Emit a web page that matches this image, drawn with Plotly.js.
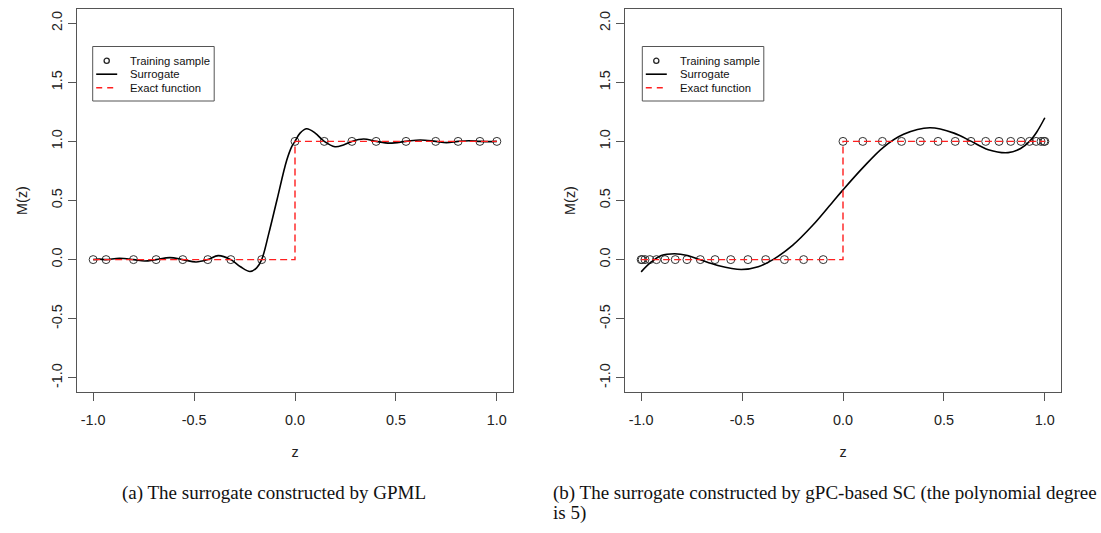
<!DOCTYPE html>
<html>
<head>
<meta charset="utf-8">
<script src="https://cdn.plot.ly/plotly-3.0.1.min.js"></script>
<style>
html,body{margin:0;padding:0;background:#fff;}
#chart{width:1101px;height:533px;}
</style>
</head>
<body>
<div id="chart"></div>
<script>
// ---------- Data ----------
// (a) GPML
const gpTrainZ = [-1.0, -0.936, -0.80, -0.688, -0.556, -0.432, -0.318, -0.165, 0.0, 0.145, 0.282, 0.402, 0.55, 0.697, 0.808, 0.916, 1.0];
const gpTrainY = [0, 0, 0, 0, 0, 0, 0, 0, 1, 1, 1, 1, 1, 1, 1, 1, 1];
const gpSurZ = [-1.0, -0.97, -0.936, -0.87, -0.80, -0.745, -0.688, -0.62, -0.556, -0.49, -0.432, -0.38, -0.318, -0.27, -0.223, -0.19, -0.165, -0.13, -0.09, -0.041, -0.015, 0.0, 0.025, 0.058, 0.10, 0.145, 0.198, 0.24, 0.282, 0.34, 0.402, 0.47, 0.55, 0.62, 0.697, 0.75, 0.808, 0.86, 0.916, 0.96, 1.0];
const gpSurY = [0.0, 0.004, 0.0, 0.011, 0.0, -0.012, 0.0, 0.017, 0.0, -0.02, 0.0, 0.034, 0.0, -0.06, -0.10, -0.07, 0.0, 0.22, 0.50, 0.84, 0.96, 1.0, 1.07, 1.107, 1.07, 1.0, 0.955, 0.97, 1.0, 1.02, 1.0, 0.985, 1.0, 1.012, 1.0, 0.99, 1.0, 1.005, 1.0, 0.998, 1.0];

// (b) gPC-based SC, degree 5
const scTrainZ = [-1.0, -0.995, -0.981, -0.957, -0.924, -0.882, -0.831, -0.773, -0.707, -0.634, -0.556, -0.471, -0.383, -0.290, -0.195, -0.098, 0.0, 0.098, 0.195, 0.290, 0.383, 0.471, 0.556, 0.634, 0.707, 0.773, 0.831, 0.882, 0.924, 0.957, 0.981, 0.995, 1.0];
const scTrainY = [0, 0, 0, 0, 0, 0, 0, 0, 0, 0, 0, 0, 0, 0, 0, 0, 1, 1, 1, 1, 1, 1, 1, 1, 1, 1, 1, 1, 1, 1, 1, 1, 1];
const scSurZ = [-1.0, -0.95, -0.9, -0.835, -0.77, -0.71, -0.62, -0.504, -0.42, -0.347, -0.25, -0.15, -0.05, 0.0, 0.1, 0.2, 0.3, 0.43, 0.55, 0.636, 0.72, 0.818, 0.88, 0.924, 0.96, 1.0];
const scSurY = [-0.104, -0.02, 0.035, 0.05, 0.035, 0.0, -0.05, -0.084, -0.06, 0.0, 0.12, 0.29, 0.49, 0.59, 0.78, 0.95, 1.06, 1.115, 1.07, 1.0, 0.93, 0.905, 0.94, 1.0, 1.08, 1.20];

// Exact step function
const exactZ = [-1, 0, 0, 1];
const exactY = [0, 0, 1, 1];

// Tick labels
const xTickVals = [-1, -0.5, 0, 0.5, 1];
const xTickText = ["-1.0", "-0.5", "0.0", "0.5", "1.0"];
const yTickVals = [-1, -0.5, 0, 0.5, 1, 1.5, 2];
const yTickText = ["-1.0", "-0.5", "0.0", "0.5", "1.0", "1.5", "2.0"];

const legendLabels = ["Training sample", "Surrogate", "Exact function"];
const captionA = "(a) The surrogate constructed by GPML";
const captionB1 = "(b) The surrogate constructed by gPC-based SC (the polynomial degree";
const captionB2 = "is 5)";

// ---------- Layout helpers ----------
const W = 1101, H = 533;
const px = x => x / W;
const py = y => 1 - y / H;
const SANS = "Liberation Sans, Arial, sans-serif";
const SERIF = "Liberation Serif, Times New Roman, serif";
const RED = "#ff1f1f";
const AXC = "#555";

function pointsTrace(z, y, xa, ya) {
  return {x: z, y: y, xaxis: xa, yaxis: ya, type: "scatter", mode: "markers",
    marker: {symbol: "circle-open", size: 8, color: "#333", line: {width: 1, color: "#333"}},
    showlegend: false, hoverinfo: "x+y"};
}
function lineTrace(z, y, xa, ya) {
  return {x: z, y: y, xaxis: xa, yaxis: ya, type: "scatter", mode: "lines",
    line: {color: "#000", width: 1.6, shape: "spline", smoothing: 1}, showlegend: false};
}
function exactTrace(xa, ya) {
  return {x: exactZ, y: exactY, xaxis: xa, yaxis: ya, type: "scatter", mode: "lines",
    line: {color: RED, width: 1.4, dash: "7px,4px"}, showlegend: false};
}

const data = [
  pointsTrace(gpTrainZ, gpTrainY, "x", "y"),
  lineTrace(gpSurZ, gpSurY, "x", "y"),
  exactTrace("x", "y"),
  pointsTrace(scTrainZ, scTrainY, "x2", "y2"),
  lineTrace(scSurZ, scSurY, "x2", "y2"),
  exactTrace("x2", "y2")
];

function xAxis(domain, anchor) {
  return {domain: domain, anchor: anchor, range: [-1.08, 1.08], tickmode: "array",
    tickvals: xTickVals, ticktext: xTickText, ticks: "outside", ticklen: 8, tickwidth: 1,
    tickcolor: AXC, showline: true, linecolor: AXC, linewidth: 1, mirror: true,
    showgrid: false, zeroline: false, ticklabelstandoff: 7,
    tickfont: {family: SANS, size: 14.4, color: "#222"},
    title: {text: "z", font: {family: SANS, size: 14.4, color: "#222"}, standoff: 19}};
}
function yAxis(domain, anchor) {
  return {domain: domain, anchor: anchor, range: [-1.12, 2.12], tickmode: "array",
    tickvals: yTickVals, ticktext: yTickText, ticks: "outside", ticklen: 8, tickwidth: 1,
    tickcolor: AXC, showline: true, linecolor: AXC, linewidth: 1, mirror: true,
    showgrid: false, zeroline: false, tickangle: -90,
    tickfont: {family: SANS, size: 14.4, color: "#222"},
    title: {text: "M(z)", font: {family: SANS, size: 14.4, color: "#222"}, standoff: 18}};
}

const yDom = [py(392), py(9)];

// Manual legends (R-style compact legend boxes)
const shapes = [];
const annotations = [];
function addLegend(L) {
  const T = 46.5, B = 101, R = L + 121.5;
  const rows = [60.7, 74.2, 87.7];
  shapes.push({type: "rect", xref: "paper", yref: "paper", x0: px(L), x1: px(R), y0: py(B), y1: py(T),
    line: {color: AXC, width: 1}, fillcolor: "#fff", layer: "above"});
  shapes.push({type: "circle", xref: "paper", yref: "paper",
    x0: px(L + 14 - 2.6), x1: px(L + 14 + 2.6), y0: py(rows[0] + 2.6), y1: py(rows[0] - 2.6),
    line: {color: "#222", width: 1.3}, layer: "above"});
  shapes.push({type: "line", xref: "paper", yref: "paper", x0: px(L + 3.5), x1: px(L + 24.5),
    y0: py(rows[1]), y1: py(rows[1]), line: {color: "#000", width: 1.6}, layer: "above"});
  shapes.push({type: "line", xref: "paper", yref: "paper", x0: px(L + 3.5), x1: px(L + 24.5),
    y0: py(rows[2]), y1: py(rows[2]), line: {color: RED, width: 1.4, dash: "6px,5px"}, layer: "above"});
  legendLabels.forEach((t, i) => {
    annotations.push({text: t, xref: "paper", yref: "paper", x: px(L + 35.5), y: py(rows[i]),
      xanchor: "left", yanchor: "middle", showarrow: false,
      font: {family: SANS, size: 11.3, color: "#111"}});
  });
}
addLegend(92.7);
addLegend(642.3);

annotations.push({text: captionA, xref: "paper", yref: "paper", x: px(274), y: py(493),
  xanchor: "center", yanchor: "middle", showarrow: false, font: {family: SERIF, size: 19, color: "#111"}});
annotations.push({text: captionB1, xref: "paper", yref: "paper", x: px(551), y: py(493),
  xanchor: "left", yanchor: "middle", showarrow: false, font: {family: SERIF, size: 19, color: "#111"}});
annotations.push({text: captionB2, xref: "paper", yref: "paper", x: px(551), y: py(512.5),
  xanchor: "left", yanchor: "middle", showarrow: false, font: {family: SERIF, size: 19, color: "#111"}});

const layout = {
  width: W, height: H,
  margin: {l: 0, r: 0, t: 0, b: 0, pad: 0},
  paper_bgcolor: "#fff", plot_bgcolor: "#fff",
  showlegend: false,
  xaxis: xAxis([px(77), px(513)], "y"),
  yaxis: yAxis(yDom, "x"),
  xaxis2: xAxis([px(625), px(1061)], "y2"),
  yaxis2: yAxis(yDom, "x2"),
  shapes: shapes,
  annotations: annotations
};

Plotly.newPlot("chart", data, layout, {staticPlot: true, displayModeBar: false});
</script>
</body>
</html>
